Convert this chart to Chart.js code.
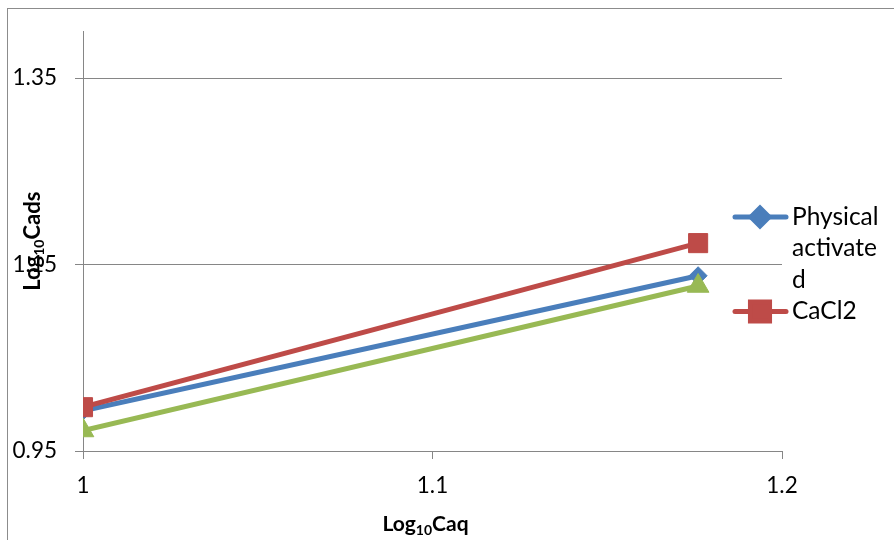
<!DOCTYPE html>
<html>
<head>
<meta charset="utf-8">
<script src="https://cdn.jsdelivr.net/npm/chart.js@4"></script>
<style>
  html, body { margin: 0; padding: 0; background: #fff; }
</style>
</head>
<body>
<canvas id="chart" width="894" height="540"></canvas>
<script>
// data
const xValues = [1, 1.176];
const physicalValues = [0.993, 1.138];
const cacl2Values = [0.997, 1.173];
const series3Values = [0.972, 1.127];
const seriesNames = ['Physical activated', 'CaCl2', 'Series3'];
const yTicks = [0.95, 1.15, 1.35];
const xTicks = [1, 1.1, 1.2];

const FONT = 'Lato, "Liberation Sans", sans-serif';
const GRID = '#868686';

function toPoints(ys) {
  return xValues.map(function (x, i) { return { x: x, y: ys[i] }; });
}

// frame round the whole chart
const framePlugin = {
  id: 'frame',
  beforeDraw: function (chart) {
    const ctx = chart.ctx;
    ctx.save();
    ctx.fillStyle = '#fff';
    ctx.fillRect(0, 0, chart.width, chart.height);
    ctx.strokeStyle = '#8c8c8c';
    ctx.lineWidth = 1;
    ctx.strokeRect(7.5, 8.5, chart.width + 10, chart.height + 10);
    ctx.restore();
  }
};

// axis titles with subscript
function drawSubText(ctx, parts, cx, cy) {
  var total = 0;
  parts.forEach(function (p) {
    ctx.font = 'bold ' + p.size + 'px ' + FONT;
    p.w = ctx.measureText(p.text).width;
    total += p.w;
  });
  var x = cx - total / 2;
  ctx.textBaseline = 'alphabetic';
  ctx.textAlign = 'left';
  parts.forEach(function (p) {
    ctx.font = 'bold ' + p.size + 'px ' + FONT;
    ctx.fillText(p.text, x, cy + (p.dy || 0));
    x += p.w;
  });
}

const titlesPlugin = {
  id: 'titles',
  afterDraw: function (chart) {
    const ctx = chart.ctx;
    const area = chart.chartArea;
    ctx.save();
    ctx.fillStyle = '#000';
    drawSubText(ctx, [
      { text: 'Log', size: 21 },
      { text: '10', size: 14, dy: 4 },
      { text: 'Caq', size: 21 }
    ], (area.left + area.right) / 2 - 7, 531);
    ctx.translate(40, (area.top + area.bottom) / 2);
    ctx.rotate(-Math.PI / 2);
    drawSubText(ctx, [
      { text: 'Log', size: 22 },
      { text: '10', size: 14, dy: 4 },
      { text: 'Cads', size: 22 }
    ], 0, 0);
    ctx.restore();
  }
};

// legend on the right, only the first two series show, text wraps
function wrapText(ctx, text, maxW) {
  var lines = [];
  var cur = '';
  text.split(' ').forEach(function (word) {
    var test = cur ? cur + ' ' + word : word;
    if (ctx.measureText(test).width <= maxW) { cur = test; return; }
    if (cur) lines.push(cur);
    cur = '';
    for (var i = 0; i < word.length; i++) {
      if (ctx.measureText(cur + word[i]).width > maxW && cur) {
        lines.push(cur);
        cur = '';
      }
      cur += word[i];
    }
  });
  if (cur) lines.push(cur);
  return lines;
}

const legendPlugin = {
  id: 'sideLegend',
  afterDraw: function (chart) {
    const ctx = chart.ctx;
    const lineH = 31.5;
    var y = 217;
    ctx.save();
    ctx.font = '24.5px ' + FONT;
    chart.data.datasets.slice(0, 2).forEach(function (ds) {
      ctx.strokeStyle = ds.borderColor;
      ctx.lineWidth = 5;
      ctx.lineCap = 'round';
      ctx.beginPath();
      ctx.moveTo(735, y);
      ctx.lineTo(786, y);
      ctx.stroke();
      ctx.fillStyle = ds.pointBackgroundColor;
      ctx.strokeStyle = ds.pointBorderColor;
      Chart.helpers.drawPoint(ctx, {
        pointStyle: ds.pointStyle,
        radius: ds.pointRadius,
        rotation: 0,
        borderWidth: 1
      }, 760, y);
      ctx.fillStyle = '#000';
      ctx.textAlign = 'left';
      ctx.textBaseline = 'middle';
      var lines = wrapText(ctx, ds.label, 92);
      lines.forEach(function (line, i) {
        ctx.fillText(line, 792, y + i * lineH);
      });
      y += lines.length * lineH;
    });
    ctx.restore();
  }
};

function series(label, values, color, style, radius, order) {
  return {
    label: label,
    data: toPoints(values),
    borderColor: color,
    borderWidth: 5,
    pointStyle: style,
    pointRadius: radius,
    pointHoverRadius: radius,
    pointBackgroundColor: color,
    pointBorderColor: color,
    pointBorderWidth: 1,
    order: order,
    tension: 0
  };
}

const ctx = document.getElementById('chart').getContext('2d');
new Chart(ctx, {
  type: 'line',
  data: {
    datasets: [
      series(seriesNames[0], physicalValues, '#4A7EBB', 'rectRot', 9, 3),
      series(seriesNames[1], cacl2Values, '#BE4B48', 'rect', 13.5, 2),
      series(seriesNames[2], series3Values, '#98B954', 'triangle', 12.5, 1)
    ]
  },
  options: {
    responsive: false,
    animation: false,
    layout: { padding: { left: 0, top: 29, right: 112, bottom: 0 } },
    plugins: {
      legend: { display: false },
      tooltip: { enabled: false }
    },
    scales: {
      x: {
        type: 'linear',
        min: 1,
        max: 1.2,
        afterBuildTicks: function (scale) {
          scale.ticks = xTicks.map(function (v) { return { value: v }; });
        },
        afterFit: function (scale) { scale.height = 89; },
        ticks: {
          color: '#000',
          font: { family: FONT, size: 22.5 },
          padding: 13,
          callback: function (v) { return String(v); }
        },
        grid: { drawOnChartArea: false, color: GRID, tickLength: 8 },
        border: { color: GRID }
      },
      y: {
        min: 0.95,
        max: 1.40,
        afterBuildTicks: function (scale) {
          scale.ticks = yTicks.map(function (v) { return { value: v }; });
        },
        afterFit: function (scale) { scale.width = 83; },
        ticks: {
          color: '#000',
          font: { family: FONT, size: 22.5 },
          padding: 18,
          callback: function (v) { return String(v); }
        },
        grid: { color: GRID, tickLength: 8 },
        border: { color: GRID }
      }
    }
  },
  plugins: [framePlugin, titlesPlugin, legendPlugin]
});
</script>
</body>
</html>
